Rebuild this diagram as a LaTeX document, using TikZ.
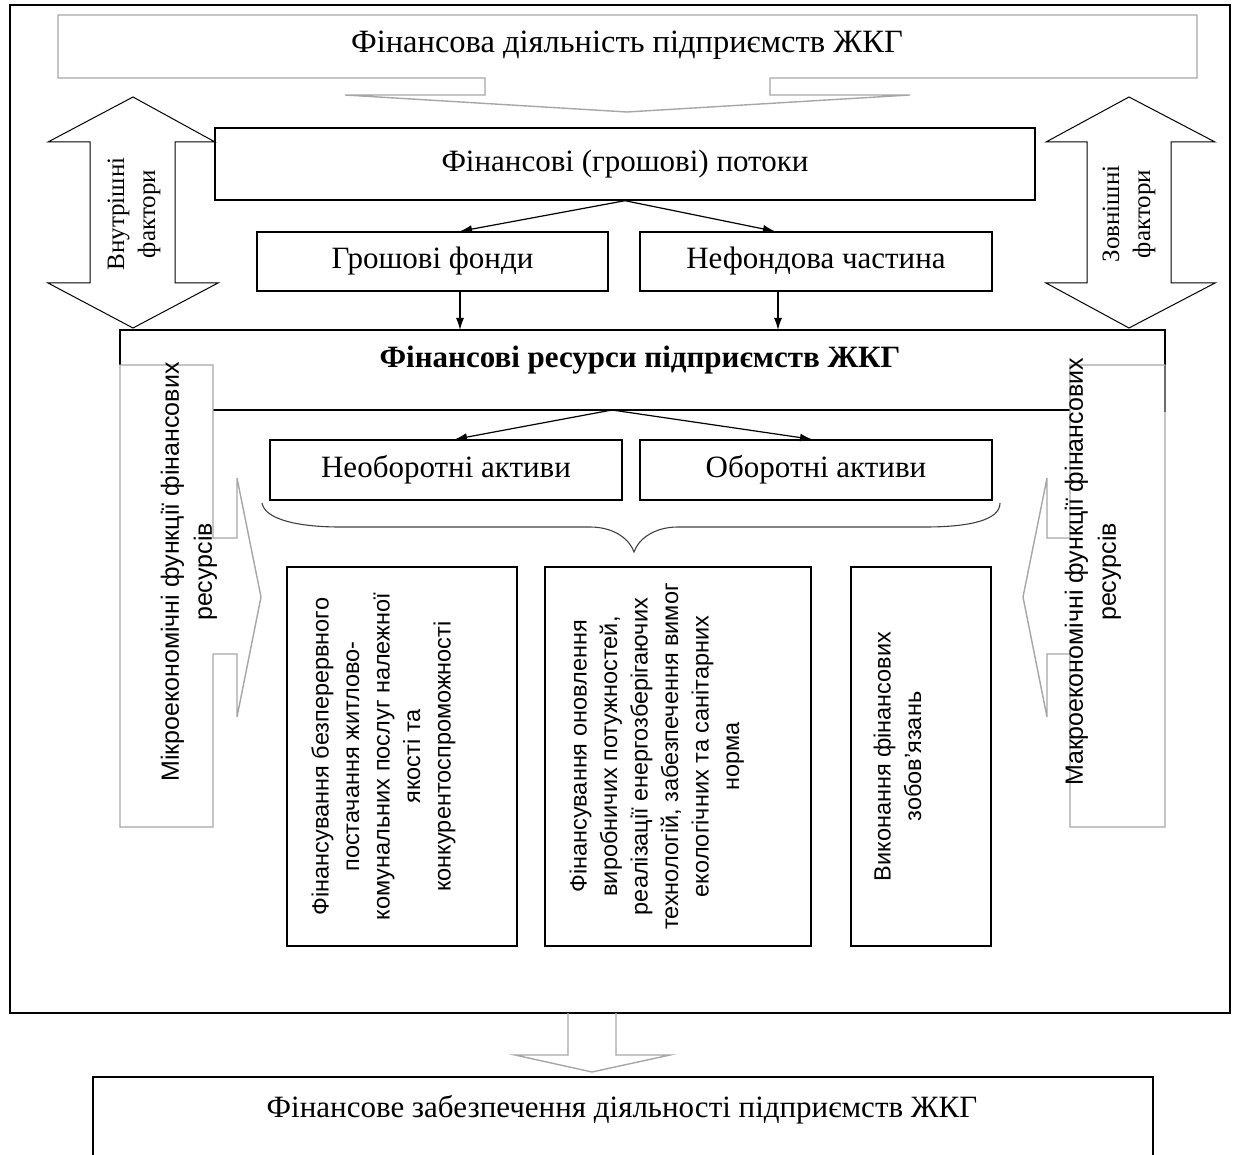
\documentclass[tikz,border=0pt]{standalone}
\usepackage{fontspec}
\setmainfont{Liberation Serif}
\newfontfamily\arialf{Liberation Sans}
\usetikzlibrary{arrows.meta,calc}
\begin{document}
\begin{tikzpicture}[x=1pt,y=-1pt,
  box/.style={draw,line width=1.4pt,inner sep=0pt,align=center},
  lbl/.style={inner sep=0pt,align=center},
  serifbig/.style={font=\fontsize{31}{35}\selectfont},
  sansrot/.style={inner sep=0pt,align=center,rotate=90,font=\arialf\fontsize{23.5}{30.5}\selectfont},
  sidesans/.style={inner sep=0pt,align=center,rotate=90,font=\arialf\fontsize{25}{33}\selectfont},
  conn/.style={line width=1.2pt,-{Latex[length=12pt,width=8pt]}},
  grayshape/.style={draw=gray!70,line width=1.4pt},
  blockarrow/.style={draw=black,line width=1pt},
]
\useasboundingbox (0,0) rectangle (1242,1155);
% outer frame
\draw[line width=1.4pt] (10,5) rectangle (1230,1013);

% top callout box
\draw[grayshape] (485,78) -- (58,78) -- (58,15) -- (1197,15) -- (1197,78) -- (770,78)
  -- (770,95) -- (910,95) -- (627,112) -- (345,95) -- (485,95) -- cycle;
\node[lbl,font=\fontsize{32.5}{36}\selectfont] (fin) at (627,45) {Фінансова діяльність підприємств ЖКГ};

% flows
\node[box,minimum width=820pt,minimum height=72pt,serifbig] (potoky) at (625,164) {Фінансові (грошові) потоки};
\node[box,minimum width=351pt,minimum height=59pt,serifbig] (fondy) at (432.5,261.5) {Грошові фонди};
\node[box,minimum width=352pt,minimum height=59pt,serifbig] (nefond) at (816,261.5) {Нефондова частина};

\draw[conn] (potoky.south) -- ($(fondy.north)+(27.5,0)$);
\draw[conn] (potoky.south) -- ($(nefond.north)+(-41,0)$);

% side double arrows
\draw[blockarrow] (133,97) -- (215,142) -- (175,142) -- (175,283) -- (218,283) -- (133,328)
  -- (48,283) -- (90,283) -- (90,142) -- (48,142) -- cycle;
\node[lbl,rotate=90,font=\fontsize{25}{31}\selectfont] (vnutr) at (134,214) {Внутрішні\\фактори};
\draw[blockarrow] (1129,97) -- (1215,142) -- (1171,142) -- (1171,283) -- (1215,283) -- (1129,328)
  -- (1046,283) -- (1087,283) -- (1087,142) -- (1046,142) -- cycle;
\node[lbl,rotate=90,font=\fontsize{25}{31}\selectfont] (zovn) at (1129,214) {Зовнішні\\фактори};

% resources frame
\draw[line width=1.4pt] (120,365) -- (120,330) -- (1165,330) -- (1165,412);
\draw[line width=1.4pt] (213,410) -- (1070,410);
\node[lbl,font=\fontsize{31}{35}\selectfont\bfseries] (res) at (640,360) {Фінансові ресурси підприємств ЖКГ};
\coordinate (ra) at (460,330);
\coordinate (rb) at (778,330);
\draw[conn] (fondy.south -| ra) -- (ra);
\draw[conn] (nefond.south -| rb) -- (rb);

% assets
\node[box,minimum width=352pt,minimum height=60pt,serifbig] (neob) at (446,470) {Необоротні активи};
\node[box,minimum width=352pt,minimum height=60pt,serifbig] (ob) at (816,470) {Оборотні активи};
\coordinate (rsplit) at (612,410);
\draw[conn] (rsplit) -- ($(neob.north)+(9,0)$);
\draw[conn] (rsplit) -- ($(ob.north)+(-4,0)$);

% brace
\draw[line width=1.1pt,draw=black!75] (262,503) .. controls (265,520) and (300,527) .. (340,527)
  -- (590,527) .. controls (615,527) and (630,540) .. (634,552)
  .. controls (638,540) and (653,527) .. (678,527) -- (925,527)
  .. controls (970,527) and (1000,520) .. (1000,503);

% side callouts
\draw[grayshape] (120,365) -- (213,365) -- (213,538) -- (237,538) -- (237,478) -- (261,597)
  -- (237,717) -- (237,654) -- (213,654) -- (213,827) -- (120,827) -- cycle;
\node[sidesans] (micro) at (189,572) {Мікроекономічні функції фінансових\\ресурсів};
\draw[grayshape] (1165,365) -- (1070,365) -- (1070,538) -- (1047,538) -- (1047,478) -- (1023,597)
  -- (1047,717) -- (1047,654) -- (1070,654) -- (1070,827) -- (1165,827) -- cycle;
\node[sidesans] (macro) at (1093,572) {Макроекономічні функції фінансових\\ресурсів};

% three boxes
\node[box,minimum width=230pt,minimum height=379pt] (b1) at (402,756.5) {};
\node[box,minimum width=266pt,minimum height=379pt] (b2) at (678,756.5) {};
\node[box,minimum width=140pt,minimum height=379pt] (b3) at (921,756.5) {};
\node[sansrot,anchor=north] (t1) at ($(b1.west)+(25,0)$) {Фінансування безперервного\\постачання житлово-\\комунальних послуг належної\\якості та\\конкурентоспроможності};
\node[sansrot,anchor=north] (t2) at ($(b2.west)+(25,0)$) {Фінансування оновлення\\виробничих потужностей,\\реалізації енергозберігаючих\\технологій, забезпечення вимог\\екологічних та санітарних\\норма};
\node[sansrot,anchor=north] (t3) at ($(b3.west)+(23,0)$) {Виконання фінансових\\зобов’язань};

% bottom arrow and box
\draw[grayshape] (568,1013) -- (568,1055) -- (515,1055) -- (592,1072) -- (670,1055) -- (616,1055) -- (616,1013);
\draw[line width=1.4pt] (93,1165) -- (93,1077) -- (1153,1077) -- (1153,1165);
\node[lbl,font=\fontsize{31}{35}\selectfont] (zab) at (622,1110) {Фінансове забезпечення діяльності підприємств ЖКГ};
\end{tikzpicture}
\end{document}
